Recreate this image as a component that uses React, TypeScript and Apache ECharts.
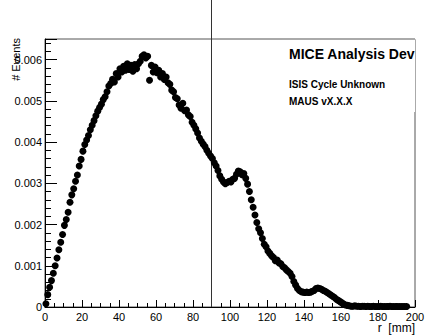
import React, { useEffect, useRef } from "react";
import * as echarts from "echarts";

// Histogram of radius r (mm), 1 mm bins starting at 0; normalised event fraction per bin
const binWidth = 1;
const eventFractions = [
  0.00008, 0.0003, 0.00048, 0.00064, 0.00082, 0.001, 0.00119, 0.00139, 0.00157, 0.00176,
  0.00198, 0.00212, 0.0023, 0.00254, 0.00272, 0.00287, 0.00305, 0.0032, 0.00342, 0.00358,
  0.00378, 0.00394, 0.00405, 0.00416, 0.0043, 0.00441, 0.00452, 0.00464, 0.00475, 0.00484,
  0.00492, 0.00503, 0.0051, 0.00522, 0.00536, 0.00542, 0.00552, 0.00546, 0.00566, 0.00558,
  0.00578, 0.0057, 0.00584, 0.00574, 0.0059, 0.00576, 0.00586, 0.00572, 0.00588, 0.00578,
  0.0059, 0.00596, 0.00608, 0.00612, 0.00604, 0.00608, 0.0055, 0.00586, 0.0057, 0.00582,
  0.00568, 0.00574, 0.00558, 0.00566, 0.00552, 0.00558, 0.00544, 0.0054, 0.00526, 0.00522,
  0.00508, 0.00505, 0.0049, 0.00482, 0.00494, 0.00476, 0.00478, 0.00466, 0.00462, 0.00448,
  0.00441, 0.00432, 0.00422, 0.0041, 0.00402, 0.00395, 0.00389, 0.0038, 0.00373, 0.00366,
  0.0036, 0.0035, 0.00342, 0.00331, 0.00318, 0.0031, 0.00303, 0.00299, 0.00302, 0.00305,
  0.00303, 0.0031, 0.00312, 0.00322, 0.0033, 0.00328, 0.00321, 0.00324, 0.00312, 0.00298,
  0.0028, 0.0026, 0.00242, 0.00223, 0.00205, 0.0019, 0.0018, 0.00166, 0.00152, 0.00146,
  0.00136, 0.0013, 0.00124, 0.0012, 0.00112, 0.00114, 0.00107, 0.00105, 0.00098, 0.00095,
  0.0009, 0.00086, 0.00082, 0.00074, 0.00062, 0.00053, 0.00045, 0.0004, 0.00037, 0.00036,
  0.00035, 0.00036, 0.00035, 0.00036, 0.00038, 0.0004, 0.00045, 0.00046, 0.00045, 0.00043,
  0.0004, 0.00038, 0.00035, 0.00032, 0.00029, 0.00026, 0.00023, 0.00019, 0.00016, 0.00013,
  0.0001, 0.00007, 0.00005, 0.00004, 0.00003, 0.00002, 0.00002, 0.00003, 0.00002, 0.00002,
  0.00001, 0.00002, 0.00002, 0.00001, 0.00002, 0.00001, 0.00001, 0.00002, 0.00001, 0.00001,
  0.00001, 0.00002, 0.00001, 0.00001, 0.00001, 0.00001, 0.00002, 0.00001, 0.00001, 0.00001,
  0.00001, 0.00001, 0.00001, 0.00001, 0.00001, 0.00001,
];

const xMin = 0;
const xMax = 200;
const xMajorStep = 20;
const yMin = 0;
const yMax = 0.0065;
const yMajorStep = 0.001;
const yMinorStep = 0.0002;
const cutPosition = 90; // vertical marker line, mm

const yAxisTitle = "# Events";
const xAxisTitle = "r  [mm]";
const paveLines = ["MICE Analysis Dev", "ISIS Cycle Unknown", "MAUS vX.X.X"];

const FONT = "'Liberation Sans', Arial, Helvetica, sans-serif";

export default function App() {
  const ref = useRef<HTMLDivElement>(null);

  useEffect(() => {
    document.body.style.margin = "0";
    const chart = echarts.init(ref.current!, null, { renderer: "svg" });
    const points = eventFractions.map((v, i) => [(i + 0.5) * binWidth, v]);
    const gridBox = { left: 45, right: 15, top: 39, bottom: 28 };

    chart.setOption({
      animation: false,
      grid: [
        { ...gridBox, show: true, borderColor: "#555", borderWidth: 1, backgroundColor: "transparent" },
        { ...gridBox },
      ],
      xAxis: [
        {
          type: "value",
          gridIndex: 0,
          min: xMin,
          max: xMax,
          interval: xMajorStep,
          axisLine: { show: true, onZero: false, lineStyle: { color: "#000", width: 1 } },
          axisTick: { show: true, inside: true, length: 7, lineStyle: { color: "#000" } },
          minorTick: { show: true, splitNumber: 4, length: 4, lineStyle: { color: "#000" } },
          axisLabel: { margin: 4, fontSize: 11, color: "#000", fontFamily: FONT },
          splitLine: { show: false },
          minorSplitLine: { show: false },
        },
        { type: "value", gridIndex: 1, min: xMin, max: xMax, show: false },
      ],
      yAxis: [
        {
          type: "value",
          gridIndex: 0,
          min: yMin,
          max: yMax,
          interval: yMinorStep,
          axisLine: { show: true, onZero: false, lineStyle: { color: "#000", width: 1 } },
          axisTick: { show: true, inside: true, length: 6, lineStyle: { color: "#000" } },
          axisLabel: { show: false },
          splitLine: { show: false },
        },
        {
          type: "value",
          gridIndex: 1,
          min: yMin,
          max: yMax,
          interval: yMajorStep,
          axisLine: { show: false },
          axisTick: { show: true, inside: true, length: 12, lineStyle: { color: "#000" } },
          axisLabel: {
            margin: 3,
            fontSize: 11,
            color: "#000",
            fontFamily: FONT,
            formatter: (v: number) => {
              if (v === 0) return "0";
              const k = Math.round(v / yMajorStep);
              if (Math.abs(v - k * yMajorStep) > 1e-9) return "";
              return (k * yMajorStep).toFixed(3);
            },
          },
          splitLine: { show: false },
        },
      ],
      series: [
        {
          type: "scatter",
          xAxisIndex: 0,
          yAxisIndex: 0,
          data: points,
          symbol: "circle",
          symbolSize: 7,
          itemStyle: { color: "#000", opacity: 1 },
          clip: true,
          silent: true,
          z: 3,
        },
      ],
    });

    const lineX = chart.convertToPixel({ xAxisIndex: 0 }, cutPosition) as number;
    const bottomY = chart.convertToPixel({ yAxisIndex: 0 }, yMin) as number;
    const topY = chart.convertToPixel({ yAxisIndex: 0 }, yMax) as number;
    const rightX = chart.convertToPixel({ xAxisIndex: 0 }, xMax) as number;

    const textStyle = (text: string, size: number, bold: boolean, align: string) => ({
      text,
      fill: "#000",
      fontSize: size,
      fontWeight: bold ? "bold" : "normal",
      fontFamily: FONT,
      align,
      textAlign: align,
      verticalAlign: "middle",
      textVerticalAlign: "middle",
    });

    chart.setOption({
      graphic: [
        {
          type: "rect",
          z: 1,
          shape: { x: 282, y: topY, width: rightX - 282 + 1, height: 73 },
          style: { fill: "#fff", stroke: null },
        },
        {
          type: "polyline",
          z: 1,
          shape: { points: [[282, topY + 0.5], [rightX + 0.5, topY + 0.5], [rightX + 0.5, topY + 73]] },
          style: { stroke: "#aaa", lineWidth: 1, fill: null },
        },
        {
          type: "line",
          z: 1,
          shape: { x1: lineX, y1: 0, x2: lineX, y2: bottomY },
          style: { stroke: "#333", lineWidth: 1 },
        },
        { type: "text", z: 5, x: 289, y: 54, style: textStyle(paveLines[0], 14, true, "left") },
        { type: "text", z: 5, x: 289, y: 84, style: textStyle(paveLines[1], 10, true, "left") },
        { type: "text", z: 5, x: 289, y: 101, style: textStyle(paveLines[2], 10, true, "left") },
        {
          type: "text",
          z: 5,
          x: 16,
          y: 38,
          rotation: Math.PI / 2,
          style: textStyle(yAxisTitle, 11, false, "right"),
        },
        { type: "text", z: 5, x: 415, y: 328, style: textStyle(xAxisTitle, 12, false, "right") },
      ],
    });

    return () => chart.dispose();
  }, []);

  return (
    <div
      ref={ref}
      style={{ position: "absolute", left: 0, top: 0, width: 430, height: 335, background: "#fff" }}
    />
  );
}
